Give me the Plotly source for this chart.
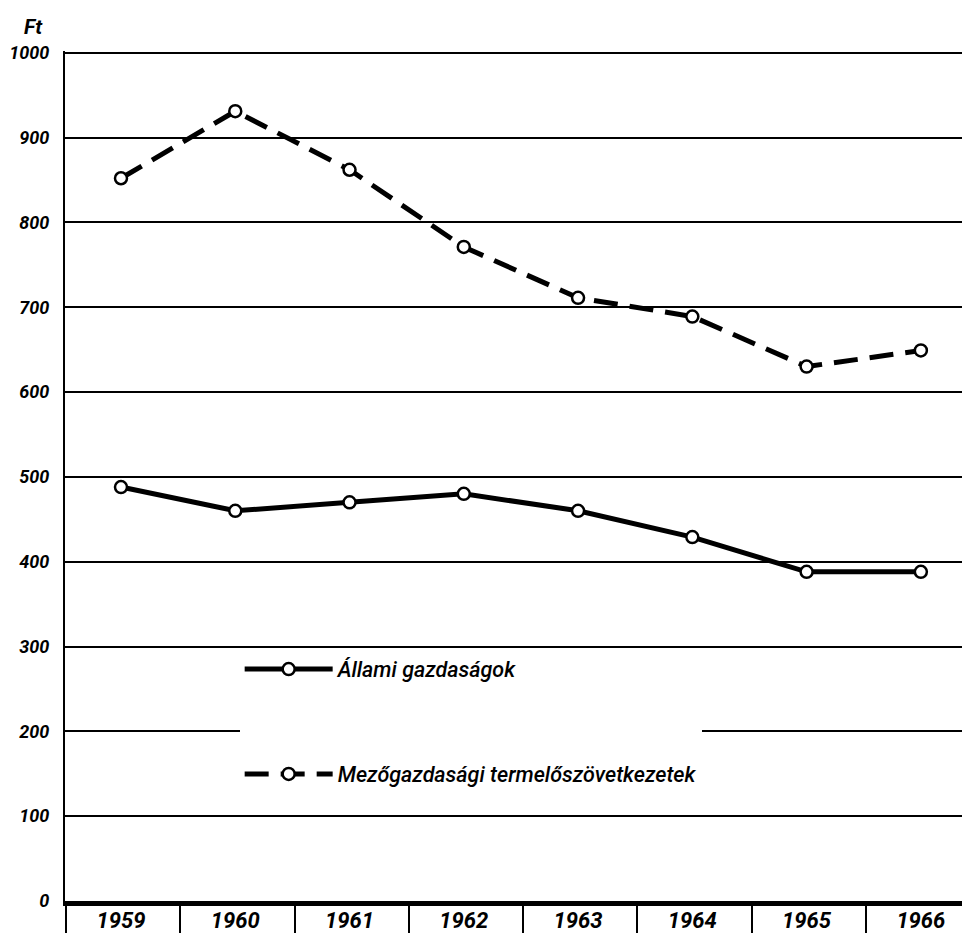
import plotly.graph_objects as go

years = [1959, 1960, 1961, 1962, 1963, 1964, 1965, 1966]
allami = [488, 460, 470, 480, 460, 429, 388, 388]
tsz = [852, 931, 862, 771, 711, 689, 630, 649]
name_allami = "Állami gazdaságok"
name_tsz = "Mezőgazdasági termelőszövetkezetek"
y_ticks = [0, 100, 200, 300, 400, 500, 600, 700, 800, 900, 1000]

FONT = "Roboto, DejaVu Sans, sans-serif"

fig = go.Figure()
fig.add_trace(go.Scatter(
    x=years, y=allami, name=name_allami, mode="lines+markers",
    line=dict(color="black", width=5),
    marker=dict(symbol="circle", size=12, color="white", line=dict(color="black", width=2.5)),
    legendgroup="a", legendrank=1,
))
fig.add_trace(go.Scatter(
    x=years, y=tsz, name=name_tsz, mode="lines+markers",
    line=dict(color="black", width=5, dash="24px,12px"),
    marker=dict(symbol="circle", size=12, color="white", line=dict(color="black", width=2.5)),
    legendgroup="b", legendrank=2,
))

fig.update_layout(
    width=962, height=925,
    margin=dict(l=57, r=0, t=43, b=32),
    paper_bgcolor="white", plot_bgcolor="white",
    font=dict(family=FONT, color="black", size=20, style="italic"),
    showlegend=True,
    legend=dict(
        x=0.193, y=0.297, xanchor="left", yanchor="top",
        bgcolor="white", borderwidth=0,
        font=dict(family=FONT, size=21.5, style="italic", color="black", weight=500),
        tracegroupgap=74, itemwidth=88,
        traceorder="grouped",
    ),
    xaxis=dict(
        range=[1958.51, 1966.43], automargin=False,
        tickmode="array", tickvals=years, ticktext=[str(y) for y in years],
        ticks="", showgrid=False, zeroline=False,
        showline=True, linecolor="black", linewidth=5,
        ticklabelstandoff=-4,
        tickfont=dict(family=FONT, size=22, style="italic", weight="bold"),
        minor=dict(ticks="outside", tick0=1958.52, dtick=1, ticklen=33,
                   tickwidth=2, tickcolor="black", showgrid=False),
    ),
    yaxis=dict(
        range=[0, 1002], automargin=False,
        tickmode="array", tickvals=y_ticks, ticktext=[str(v) for v in y_ticks],
        ticks="", showgrid=True, gridcolor="black", gridwidth=2,
        zeroline=False, showline=True, linecolor="black", linewidth=2,
        ticklabelstandoff=10,
        tickfont=dict(family=FONT, size=18, style="italic", weight="bold"),
    ),
    annotations=[dict(
        text="Ft", xref="paper", yref="paper", x=-0.035, y=1.028,
        xanchor="center", yanchor="middle", showarrow=False,
        font=dict(family=FONT, size=21, style="italic", weight="bold"),
    )],
)

fig.write_html("out.html")
